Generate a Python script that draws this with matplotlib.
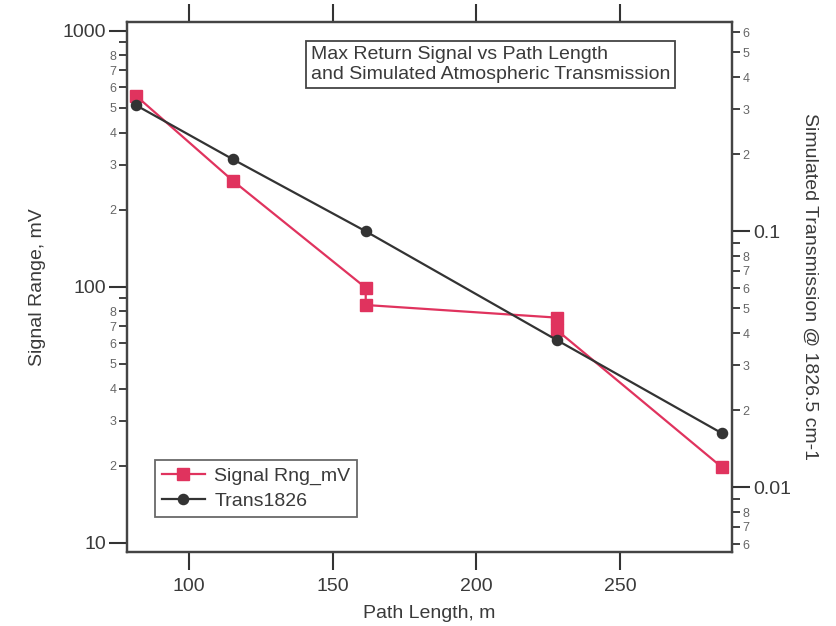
import matplotlib
matplotlib.use("Agg")
import matplotlib.pyplot as plt
from matplotlib.ticker import FixedLocator, FixedFormatter, NullLocator

plt.rcParams['font.family'] = ['Liberation Sans', 'DejaVu Sans']

# Path lengths (m) and measurements
signal_path = [81.5, 115.3, 161.5, 161.5, 228.0, 228.0, 285.5]
signal_mv = [557, 259, 99, 84.8, 75.7, 67.7, 19.7]
trans_path = [81.5, 115.3, 161.5, 228.0, 285.5]
trans_1826 = [0.311, 0.191, 0.100, 0.0376, 0.01625]

x_ticks = [100, 150, 200, 250]
left_major = [10, 100, 1000]
right_major = [0.01, 0.1]

RED = '#e0335e'
DARK = '#333333'
TXT = '#3a3a3a'
MINOR_TXT = '#666666'

fig = plt.figure(figsize=(8.36, 6.26), dpi=100)
W, H = 836, 626
x0, x1, y0, y1 = 127, 732, 21.7, 551.7
ax = fig.add_axes([x0 / W, 1 - y1 / H, (x1 - x0) / W, (y1 - y0) / H])
ax2 = ax.twinx()

l1, = ax.plot(signal_path, signal_mv, color=RED, lw=1.6, marker='s', ms=8.3,
              mec=RED, mfc=RED, zorder=3, label='Signal Rng_mV')
l2, = ax2.plot(trans_path, trans_1826, color=DARK, lw=1.6, marker='o', ms=7.3,
               mec=DARK, mfc=DARK, zorder=3, label='Trans1826')

ax.set_yscale('log')
ax2.set_yscale('log')
ax.set_xlim(78.4, 289.0)
ax.set_ylim(9.22, 1084)
ax2.set_ylim(0.0056, 0.659)


def setup_log_axis(a, decades, major_vals, major_labels):
    minor_vals = []
    minor_labels = []
    for m in decades:
        for k in range(2, 10):
            minor_vals.append(m * k)
            minor_labels.append('' if k == 9 else str(k))
    a.yaxis.set_major_locator(FixedLocator(major_vals))
    a.yaxis.set_major_formatter(FixedFormatter(major_labels))
    a.yaxis.set_minor_locator(FixedLocator(minor_vals))
    a.yaxis.set_minor_formatter(FixedFormatter(minor_labels))
    a.tick_params(axis='y', which='major', direction='out', length=13, width=1.5,
                  color=DARK, labelsize=14, labelcolor=TXT, pad=2)
    a.tick_params(axis='y', which='minor', direction='out', length=6, width=1.3,
                  color=DARK, labelsize=9, labelcolor=MINOR_TXT, pad=1.5)


setup_log_axis(ax, [10, 100], left_major, ['10', '100', '1000'])
setup_log_axis(ax2, [0.001, 0.01, 0.1], right_major, ['0.01', '0.1'])

ax.xaxis.set_major_locator(FixedLocator(x_ticks))
ax.xaxis.set_minor_locator(NullLocator())
ax.tick_params(axis='x', which='major', direction='out', length=13, width=1.5,
               color=DARK, labelsize=14, labelcolor=TXT, pad=6,
               top=True, labeltop=False)

for a in (ax, ax2):
    for s in a.spines.values():
        s.set_color('#444444')
        s.set_linewidth(1.6)

ax.set_xlabel('Path Length, m', fontsize=14, color=TXT, labelpad=7)
ax.set_ylabel('Signal Range, mV', fontsize=14, color=TXT, labelpad=12)
ax2.set_ylabel('Simulated Transmission @ 1826.5 cm-1', fontsize=14, color=TXT,
               rotation=270, labelpad=20)

ax2.text(0.3045, 0.955,
         'Max Return Signal vs Path Length\nand Simulated Atmospheric Transmission',
         transform=ax.transAxes, ha='left', va='top', fontsize=14, color=TXT,
         linespacing=1.25,
         bbox=dict(boxstyle='square,pad=0.25', fc='white', ec='#444444', lw=1.3))

leg = ax2.legend(handles=[l1, l2], loc='upper left', bbox_to_anchor=(0.0463, 0.173),
                 borderaxespad=0, fontsize=14, frameon=True, fancybox=False,
                 edgecolor='#444444', handlelength=2.2, handletextpad=0.5,
                 borderpad=0.35, labelspacing=0.4, numpoints=1)
leg.get_frame().set_linewidth(1.3)
for t in leg.get_texts():
    t.set_color(TXT)

fig.savefig('out.png', dpi=100, facecolor='white')
